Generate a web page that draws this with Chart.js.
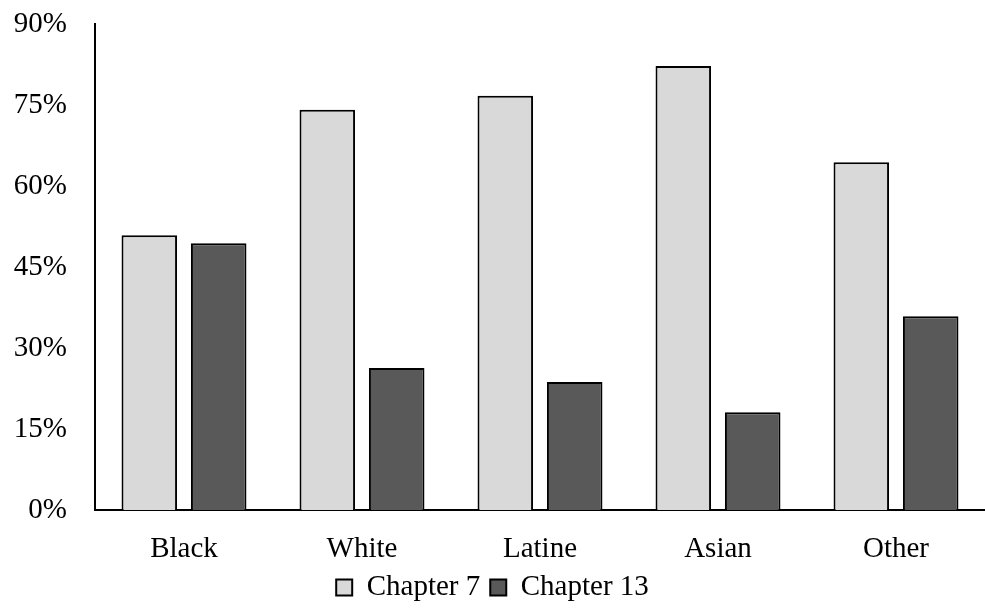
<!DOCTYPE html>
<html>
<head>
<meta charset="utf-8">
<script src="https://cdn.jsdelivr.net/npm/chart.js@4"></script>
<style>
html,body{margin:0;padding:0;background:#fff;}
#wrap{width:985px;height:612px;position:relative;}
</style>
</head>
<body>
<div id="wrap"><canvas id="c" width="985" height="612"></canvas></div>
<script>
const categories = ["Black", "White", "Latine", "Asian", "Other"];
const chapter7 = [50.9, 74.1, 76.7, 82.2, 64.4];
const chapter13 = [49.4, 26.3, 23.7, 18.1, 35.9];
const seriesNames = ["Chapter 7", "Chapter 13"];
const yTicks = [0, 15, 30, 45, 60, 75, 90];

const FONT = "'Liberation Serif', 'DejaVu Serif', serif";

new Chart(document.getElementById('c'), {
  type: 'bar',
  data: {
    labels: categories,
    datasets: [
      { label: seriesNames[0], data: chapter7, backgroundColor: '#d9d9d9', borderColor: '#000', borderWidth: 2, categoryPercentage: 0.78, barPercentage: 0.8 },
      { label: seriesNames[1], data: chapter13, backgroundColor: '#595959', borderColor: '#000', borderWidth: 2, categoryPercentage: 0.78, barPercentage: 0.8 }
    ]
  },
  options: {
    responsive: false,
    animation: false,
    layout: { padding: { left: 0, right: 0, top: 0, bottom: 0 } },
    plugins: {
      tooltip: { enabled: false },
      legend: {
        position: 'bottom',
        labels: {
          font: { family: FONT, size: 29 },
          color: '#000',
          boxWidth: 16, boxHeight: 16,
          padding: 10,
          useBorderRadius: false
        }
      }
    },
    scales: {
      x: {
        grid: { display: false, drawTicks: false },
        border: { display: true, color: '#000', width: 2 },
        afterFit: (axis) => { axis.height = 53; axis.paddingLeft = 0; axis.paddingRight = 0; },
        ticks: { font: { family: FONT, size: 29 }, color: '#000', padding: 22 }
      },
      y: {
        min: 0, max: 90,
        afterBuildTicks: (axis) => { axis.ticks = yTicks.map(v => ({ value: v })); },
        afterFit: (axis) => { axis.width = 95; axis.paddingTop = 24; axis.paddingBottom = 0; },
        grid: { display: false, drawTicks: false },
        border: { display: true, color: '#000', width: 2 },
        ticks: { font: { family: FONT, size: 29 }, color: '#000', padding: 28, callback: v => v + '%' }
      }
    }
  }
});
</script>
</body>
</html>
